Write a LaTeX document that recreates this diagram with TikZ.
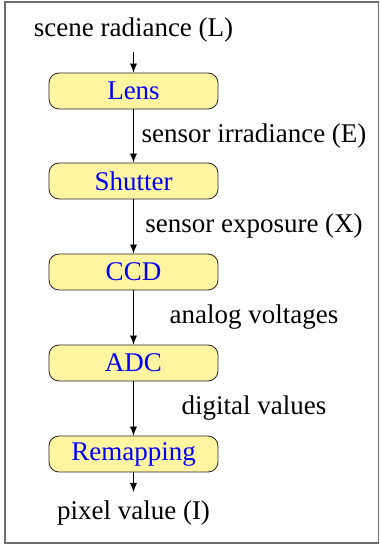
\documentclass[tikz,border=0pt]{standalone}
\usepackage{fontspec}
\setmainfont{Liberation Serif}
\usetikzlibrary{arrows.meta}
\definecolor{boxfill}{RGB}{255,245,160}
\definecolor{framegray}{RGB}{110,110,110}
\tikzset{
	stage/.style={draw=black!85, fill=boxfill, rounded corners=5pt, minimum width=84.5pt, minimum height=18pt, inner sep=0pt, text=blue},
	flow/.style={-{Latex[length=4.5pt,width=3.5pt]}},
	flowlabel/.style={midway, xshift=60.25pt},
}
\begin{document}
\begin{tikzpicture}[x=0.5pt,y=0.5pt,font=\fontsize{13.5}{15}\selectfont]
	%\draw[help lines] (0,0) grid[step=20] (380,546);
	\useasboundingbox (0,0) rectangle (380,546);
	\draw[framegray, line width=0.6pt] (5,3) rectangle (378.5,544);
	\node (in) at (133.5,516) {scene radiance (L)};
	\coordinate (intip) at (133.5,494);
	\node[stage] (lens) at (133.5,455) {Lens};
	\node[stage] (shutter) at (133.5,365) {Shutter};
	\node[stage] (ccd) at (133.5,274) {CCD};
	\node[stage] (adc) at (133.5,183) {ADC};
	\node[stage] (remap) at (133.5,92) {Remapping};
	\coordinate (outtip) at (133.5,54);
	\node (out) at (133.5,33) {pixel value (I)};
	\draw[flow] (intip) -- (lens);
	\draw[flow] (lens) -- node[flowlabel] {sensor irradiance (E)} (shutter);
	\draw[flow] (shutter) -- node[flowlabel] {sensor exposure (X)} (ccd);
	\draw[flow] (ccd) -- node[flowlabel] {analog voltages} (adc);
	\draw[flow] (adc) -- node[flowlabel] {digital values} (remap);
	\draw[flow] (remap) -- (outtip);
\end{tikzpicture}
\end{document}
